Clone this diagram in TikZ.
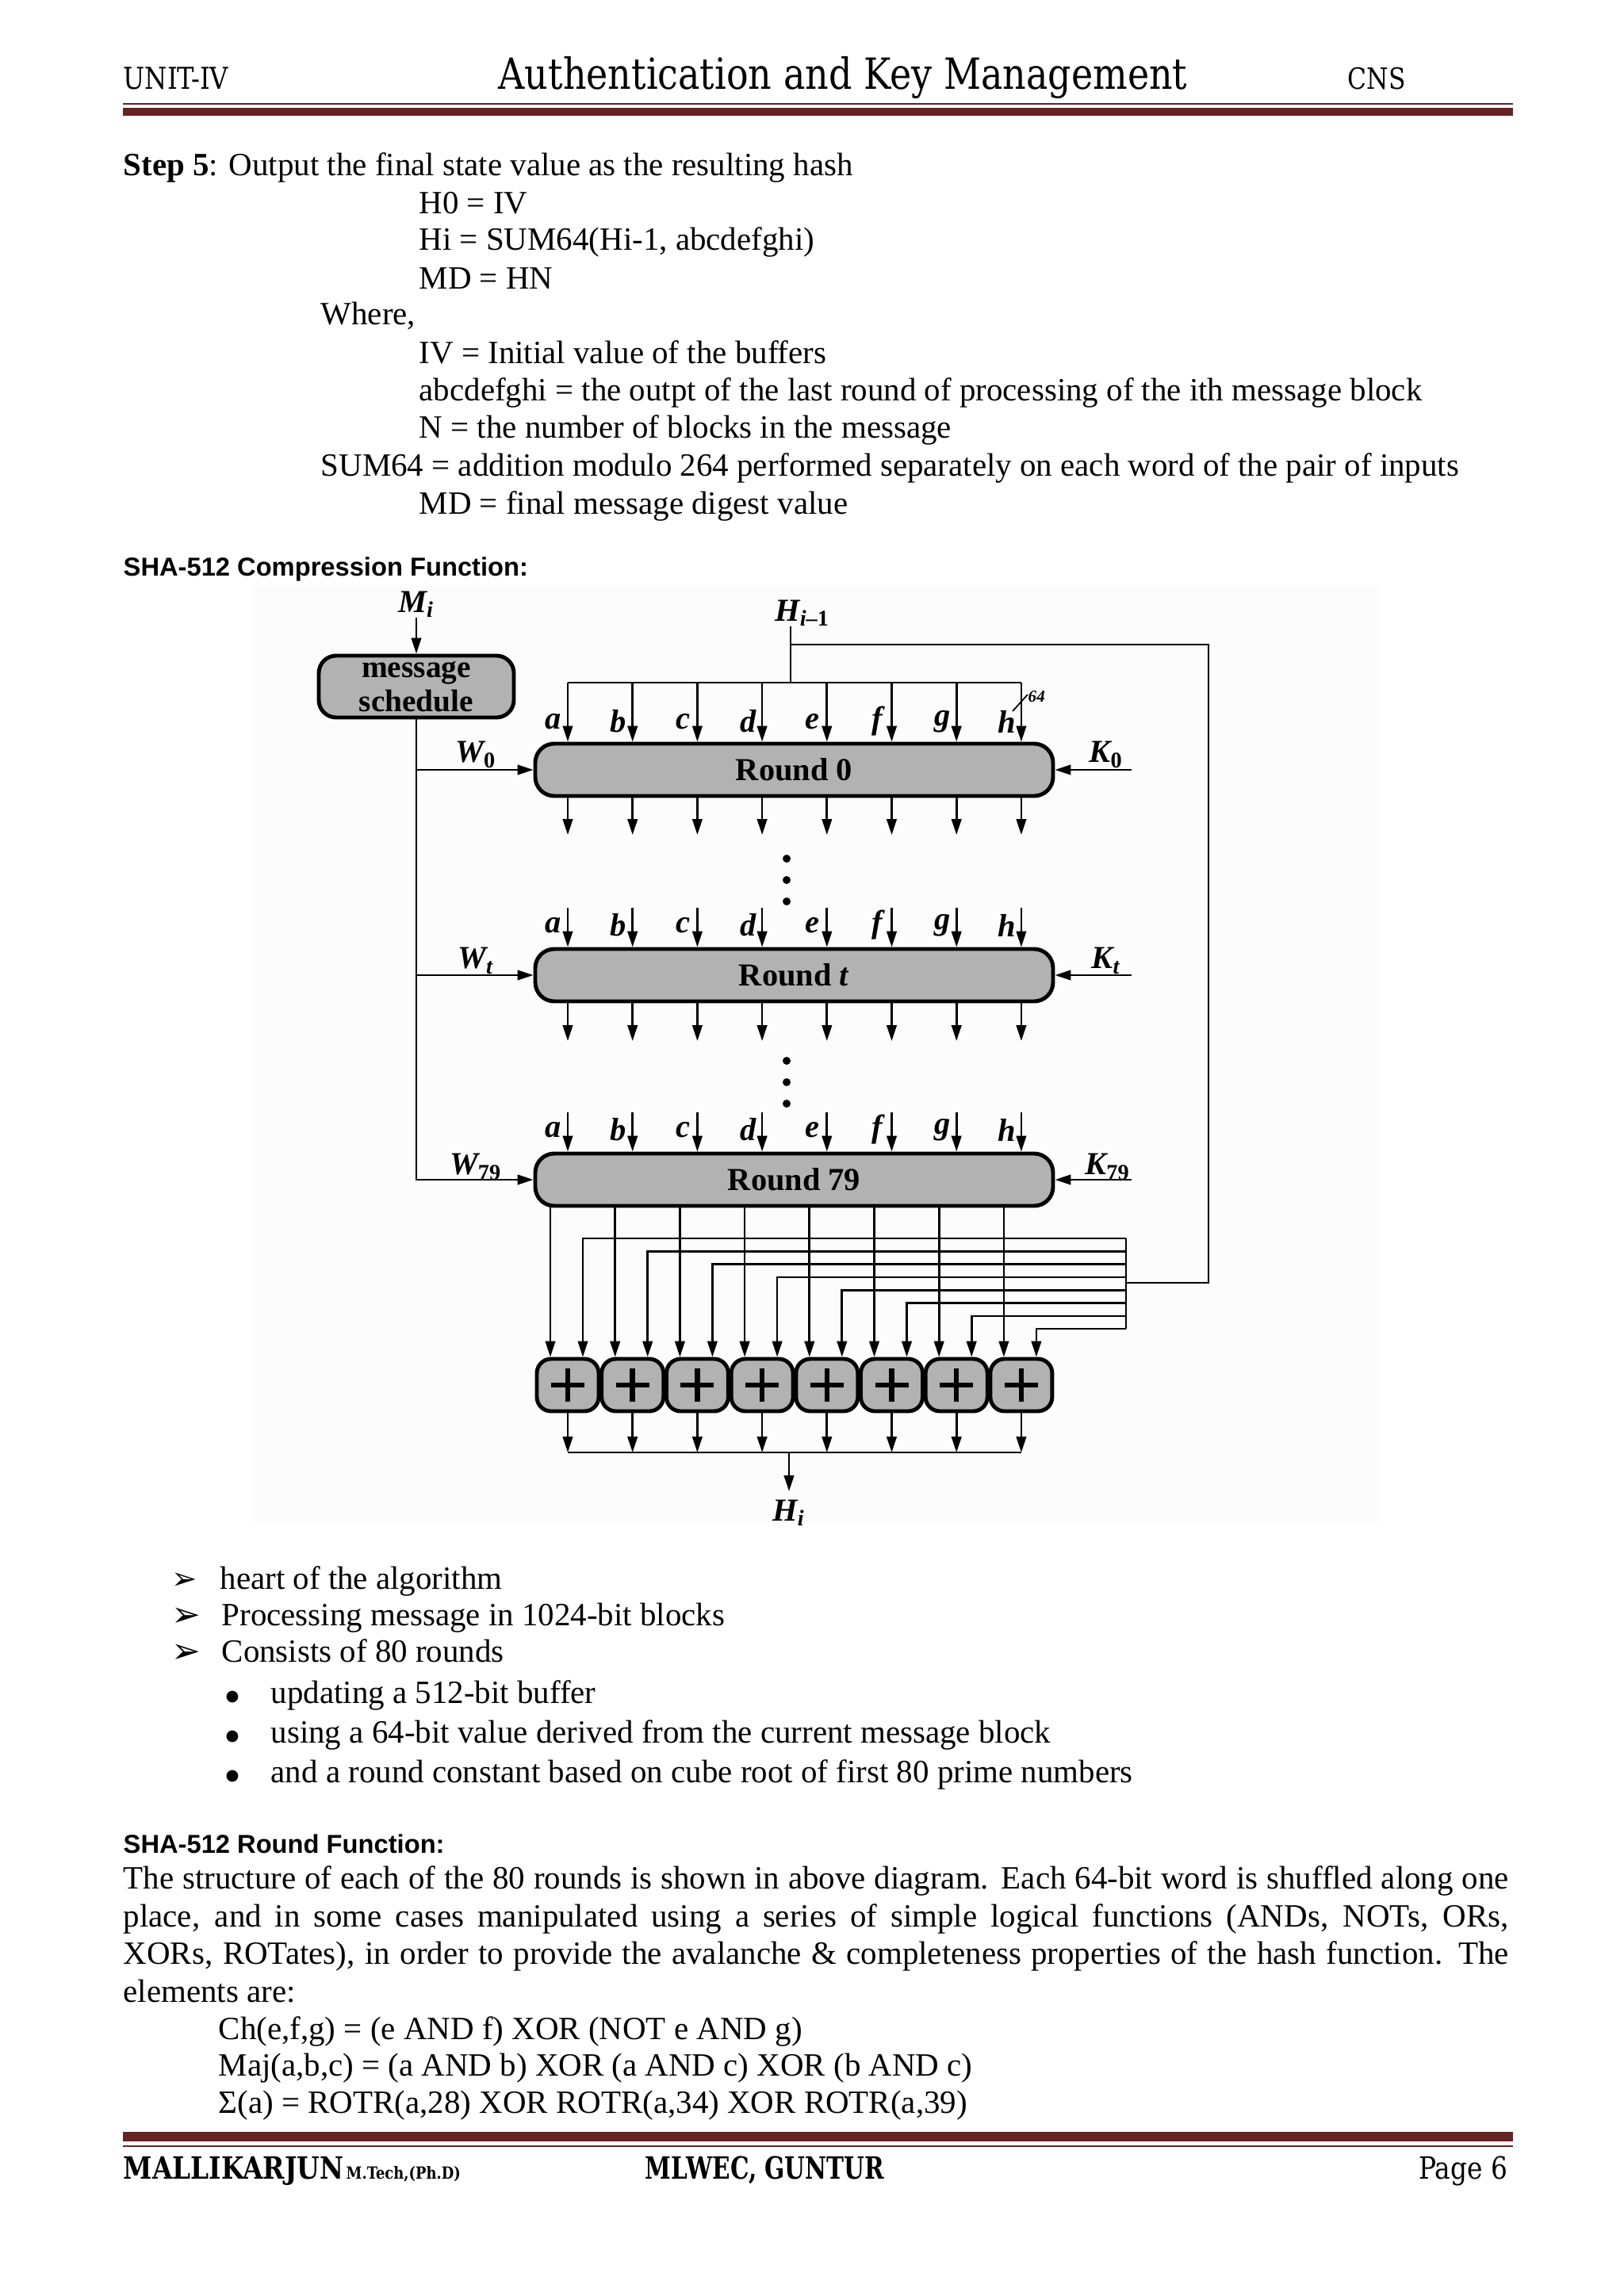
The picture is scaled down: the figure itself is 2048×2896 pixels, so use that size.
\documentclass[tikz,border=0pt]{standalone}
\usepackage{fontspec}
\setmainfont{Liberation Serif}
\newfontfamily\headsans{Liberation Sans}
\newfontfamily\hdrserif{DejaVu Serif}[FakeStretch=0.85]
\newfontfamily\symfont{DejaVu Sans}
\usetikzlibrary{arrows.meta}
\definecolor{barred}{RGB}{99,36,35}
\definecolor{boxgray}{RGB}{178,178,178}
\definecolor{diagbg}{RGB}{252,252,252}
\begin{document}
\begin{tikzpicture}[x=0.1mm,y=-0.1mm,
  body/.style={anchor=base west,inner sep=0pt,font=\fontsize{11.65}{13.5}\selectfont},
  hd/.style={anchor=base west,inner sep=0pt,font=\headsans\bfseries\fontsize{9.3}{11}\selectfont},
  hdr/.style={anchor=base west,inner sep=0pt},
  ln/.style={draw=black,line width=0.75pt},
  arr/.style={ln,-{Triangle[length=2mm,width=1.25mm]}},
  rbox/.style={draw=black,line width=1.4pt,fill=boxgray,rounded corners=2.4mm,inner sep=0pt,minimum width=65.3mm,minimum height=6.6mm,font=\fontsize{11.5}{13}\selectfont\bfseries},
  addbox/.style={draw=black,line width=1.4pt,fill=boxgray,rounded corners=1.8mm,inner sep=0pt,minimum width=7.8mm,minimum height=6.6mm},
  dlab/.style={inner sep=0pt,font=\fontsize{11.5}{13}\selectfont\bfseries\itshape},
  dotn/.style={fill=black,circle,inner sep=0pt,minimum size=1mm}
]
\useasboundingbox (0,0) rectangle (2048,2896);
\fill[white] (0,0) rectangle (2048,2896);

% ---------- header ----------
\node[hdr,font=\hdrserif\fontsize{10.8}{12}\selectfont] (unit) at (155,113) {UNIT-IV};
\node[hdr,font=\hdrserif\fontsize{15.4}{17}\selectfont] (title) at (628,113) {Authentication and Key Management};
\node[hdr,font=\hdrserif\fontsize{10.5}{12}\selectfont] (cns) at (1699,113) {CNS};
\draw[barred,line width=0.7pt] (155,131) -- (1908,131);
\fill[barred] (155,136) rectangle (1908,146);

% ---------- step 5 ----------
\node[body] (s5) at (155,222) {\textbf{Step 5}: Output the final state value as the resulting hash};
\node[body] (l1) at (528,270) {H0 = IV};
\node[body] (l2) at (528,316) {Hi = SUM64(Hi-1, abcdefghi)};
\node[body] (l3) at (528,364) {MD = HN};
\node[body] (l4) at (404,410) {Where,};
\node[body] (l5) at (528,458) {IV = Initial value of the buffers};
\node[body] (l6) at (528,506) {abcdefghi = the outpt of the last round of processing of the ith message block};
\node[body] (l7) at (528,552) {N = the number of blocks in the message};
\node[body] (l8) at (404,600) {SUM64 = addition modulo 264 performed separately on each word of the pair of inputs};
\node[body] (l9) at (528,648) {MD = final message digest value};

\node[hd] (h1) at (155,726) {SHA-512 Compression Function:};

% ---------- diagram ----------
\fill[diagbg] (318,739) rectangle (1740,1921);

\node[rbox] (msched) at (525,866) [minimum width=24.6mm,minimum height=7.8mm,align=center,rounded corners=2.2mm,font=\fontsize{11.2}{12.2}\selectfont\bfseries] {message\\schedule};
\node[dlab] (mi) at (525,762) {M\textsubscript{i}};
\draw[arr] (mi.south) -- (msched.north);

\node[rbox] (r0) at (1001.5,971) {Round 0};
\node[rbox] (rt) at (1001.5,1230) {Round \textit{t}};
\node[rbox] (r79) at (1001.5,1488) {Round 79};

\draw[arr] (msched.south) |- (r79.west);
\coordinate (w0s) at (msched.south |- r0.west);
\coordinate (wts) at (msched.south |- rt.west);
\draw[arr] (w0s) -- (r0.west);
\draw[arr] (wts) -- (rt.west);
\node[dlab] (w0) at (600,952) {W\textsubscript{\upshape 0}};
\node[dlab] (wt) at (600,1212) {W\textsubscript{t}};
\node[dlab] (w79) at (600,1472) {W\textsubscript{\upshape 79}};

\coordinate (k0s) at ([xshift=9.7mm]r0.east);
\coordinate (kts) at ([xshift=9.7mm]rt.east);
\coordinate (k79s) at ([xshift=9.7mm]r79.east);
\draw[arr] (k0s) -- (r0.east);
\draw[arr] (kts) -- (rt.east);
\draw[arr] (k79s) -- (r79.east);
\node[dlab] (k0) at (1395,952) {K\textsubscript{\upshape 0}};
\node[dlab] (kt) at (1395,1212) {K\textsubscript{t}};
\node[dlab] (k79) at (1397,1472) {K\textsubscript{\upshape 79}};

% H_{i-1}
\node[dlab] (hprev) at (1012,773) {H\textsubscript{i\upshape –1}};
\coordinate (hbus) at (997,861);
\coordinate (hbr) at (997,813);
\draw[ln] (hprev.south -| hbus) -- (hbus);
\coordinate (fbtr) at (1524,813);
\coordinate (fbbr) at (1524,1618);
\coordinate (fbj) at (1420,1618);
\draw[ln] (hbr) -- (fbtr) -- (fbbr) -- (fbj);

\foreach \k/\l in {0/a,1/b,2/c,3/d,4/e,5/f,6/g,7/h} {
  \pgfmathsetmacro\xx{716+81.7*\k}
  \pgfmathsetmacro\yy{1562+16.3*\k}
  % round 0
  \coordinate (in0\k) at (\xx,861);
  \draw[arr] (in0\k) -- (in0\k |- r0.north);
  \node[dlab] (la0\k) at ({\xx-18},910) {\l};
  \coordinate (out0\k) at (\xx,1053);
  \draw[arr] (out0\k |- r0.south) -- (out0\k);
  % round t
  \coordinate (int\k) at (\xx,1145);
  \draw[arr] (int\k) -- (int\k |- rt.north);
  \node[dlab] (lat\k) at ({\xx-18},1167) {\l};
  \coordinate (outt\k) at (\xx,1313);
  \draw[arr] (outt\k |- rt.south) -- (outt\k);
  % round 79
  \coordinate (in79\k) at (\xx,1403);
  \draw[arr] (in79\k) -- (in79\k |- r79.north);
  \node[dlab] (la79\k) at ({\xx-18},1425) {\l};
  % adders
  \node[addbox] (ad\k) at (\xx,1747) {};
  \draw[line width=0.65mm] ([xshift=-2.1mm]ad\k.center) -- ([xshift=2.1mm]ad\k.center);
  \draw[line width=0.65mm] ([yshift=-2.1mm]ad\k.center) -- ([yshift=2.1mm]ad\k.center);
  \draw[arr] ([xshift=-2.2mm]ad\k.north |- r79.south) -- ([xshift=-2.2mm]ad\k.north);
  \coordinate (fb\k) at (1420,\yy);
  \draw[arr] (fb\k) -| ([xshift=1.9mm]ad\k.north);
  \coordinate (ob\k) at (\xx,1832);
  \draw[arr] (ad\k.south) -- (ob\k);
}
\draw[ln] (in00) -- (in07);
\draw[ln] (fb0) -- (fb7);
\draw[ln] (ob0) -- (ob7);

% 64 tag
\coordinate (t64a) at (1277,897);
\coordinate (t64b) at (1296,876);
\draw[line width=0.5pt] (t64a) -- (t64b);
\node[anchor=west,inner sep=0pt,font=\fontsize{6}{6}\selectfont\bfseries\itshape] (n64) at (1296,879) {64};

% dots
\foreach \i/\yy in {1/1083,2/1110,3/1137,4/1338,5/1365,6/1392} {
  \node[dotn] (dot\i) at (992,\yy) {};
}

\node[dlab] (hi) at (995,1908) {H\textsubscript{i}};
\coordinate (hbot) at (995,1832);
\draw[arr] (hbot) -- ([yshift=1mm]hi.north);

% ---------- bullets ----------
\node[body,font=\symfont\fontsize{11}{12}\selectfont] (ar1) at (216,2004) {➢};
\node[body,font=\symfont\fontsize{12.5}{13}\selectfont] (ar2) at (216,2051) {➢};
\node[body,font=\symfont\fontsize{12.5}{13}\selectfont] (ar3) at (216,2097) {➢};
\node[body] (b1) at (277,2004) {heart of the algorithm};
\node[body] (b2) at (279,2050) {Processing message in 1024-bit blocks};
\node[body] (b3) at (279,2096) {Consists of 80 rounds};
\node[body,font=\symfont\fontsize{5.5}{6}\selectfont] (d1) at (284,2145) {●};
\node[body,font=\symfont\fontsize{5.5}{6}\selectfont] (d2) at (284,2195) {●};
\node[body,font=\symfont\fontsize{5.5}{6}\selectfont] (d3) at (284,2245) {●};
\node[body] (c1) at (341,2148) {updating a 512-bit buffer};
\node[body] (c2) at (341,2198) {using a 64-bit value derived from the current message block};
\node[body] (c3) at (341,2248) {and a round constant based on cube root of first 80 prime numbers};

% ---------- round function ----------
\node[hd] (h2) at (155,2337) {SHA-512 Round Function:};
\node[body] (p1) at (155,2382) {\makebox[174.7mm][s]{The structure of each of the 80 rounds is shown in above diagram. Each 64-bit word is shuffled along one}};
\node[body] (p2) at (155,2430) {\makebox[174.7mm][s]{place, and in some cases manipulated using a series of simple logical functions (ANDs, NOTs, ORs,}};
\node[body] (p3) at (155,2477) {\makebox[174.7mm][s]{XORs, ROTates), in order to provide the avalanche \& completeness properties of the hash function. The}};
\node[body] (p4) at (155,2525) {elements are:};
\node[body] (f1) at (275,2572) {Ch(e,f,g) = (e AND f) XOR (NOT e AND g)};
\node[body] (f2) at (275,2618) {Maj(a,b,c) = (a AND b) XOR (a AND c) XOR (b AND c)};
\node[body] (f3) at (275,2665) {Σ(a) = ROTR(a,28) XOR ROTR(a,34) XOR ROTR(a,39)};

% ---------- footer ----------
\fill[barred] (155,2689) rectangle (1908,2701);
\draw[barred,line width=0.7pt] (155,2707) -- (1908,2707);
\node[hdr,font=\hdrserif\bfseries\fontsize{11}{12}\selectfont] (auth) at (155,2748) {MALLIKARJUN};
\node[hdr,font=\hdrserif\bfseries\fontsize{6}{7}\selectfont] (deg) at (436,2748) {M.Tech,(Ph.D)};
\node[hdr,font=\hdrserif\bfseries\fontsize{11}{12}\selectfont] (coll) at (813,2748) {\scalebox{0.9}[1]{MLWEC, GUNTUR}};
\node[anchor=base east,inner sep=0pt,font=\hdrserif\fontsize{11}{12}\selectfont] (page) at (1902,2748) {Page 6};
\end{tikzpicture}
\end{document}
